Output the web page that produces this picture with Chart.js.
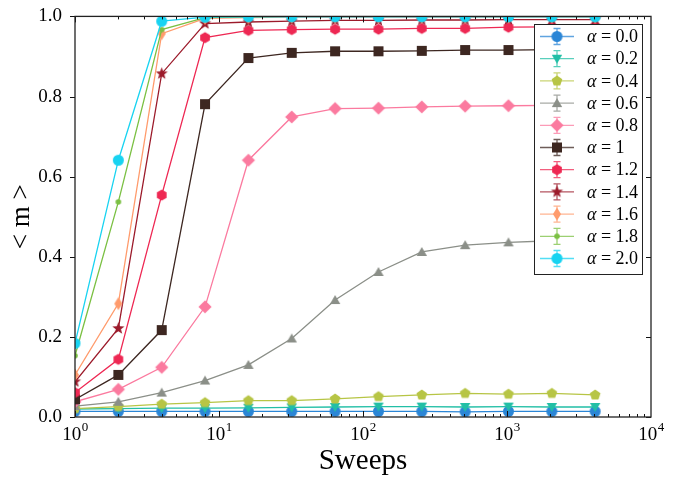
<!DOCTYPE html>
<html>
<head>
<meta charset="utf-8">
<script src="https://cdn.jsdelivr.net/npm/chart.js@4.4.1/dist/chart.umd.min.js"></script>
<style>
    html, body { margin: 0; padding: 0; background: #fff; }
    #wrap { width: 679px; height: 479px; }
</style>
</head>
<body>
<div id="wrap"><canvas id="sweepChart" width="679" height="479"></canvas></div>
<script>
// sweep counts (x) and magnetisation per alpha
const sweeps = [1, 2, 4, 8, 16, 32, 64, 128, 256, 512, 1024, 2048, 4096];
const alphaLabels = ["α = 0.0", "α = 0.2", "α = 0.4", "α = 0.6", "α = 0.8", "α = 1",
                     "α = 1.2", "α = 1.4", "α = 1.6", "α = 1.8", "α = 2.0"];

const mA00 = [0.014, 0.014, 0.014, 0.014, 0.014, 0.014, 0.014, 0.014, 0.014, 0.013, 0.014, 0.014, 0.014];
const mA02 = [0.020, 0.021, 0.022, 0.022, 0.023, 0.024, 0.025, 0.026, 0.026, 0.025, 0.026, 0.025, 0.025];
const mA04 = [0.021, 0.026, 0.032, 0.036, 0.041, 0.041, 0.045, 0.051, 0.055, 0.059, 0.057, 0.059, 0.055];
const mA06 = [0.027, 0.038, 0.061, 0.091, 0.130, 0.196, 0.292, 0.362, 0.412, 0.429, 0.436, 0.440, 0.445];
const mA08 = [0.038, 0.069, 0.124, 0.275, 0.641, 0.749, 0.770, 0.771, 0.774, 0.776, 0.777, 0.778, 0.779];
const mA10 = [0.044, 0.105, 0.217, 0.781, 0.896, 0.909, 0.913, 0.913, 0.914, 0.916, 0.916, 0.917, 0.917];
const mA12 = [0.061, 0.144, 0.554, 0.947, 0.965, 0.967, 0.968, 0.968, 0.970, 0.970, 0.973, 0.974, 0.975];
const mA14 = [0.088, 0.221, 0.857, 0.982, 0.986, 0.988, 0.990, 0.990, 0.991, 0.991, 0.992, 0.992, 0.992];
const mA16 = [0.105, 0.283, 0.957, 0.995, 0.997, 0.998, 0.998, 0.998, 0.998, 0.998, 0.998, 0.998, 0.998];
const mA18 = [0.153, 0.537, 0.967, 0.997, 0.999, 1.000, 1.000, 1.000, 1.000, 1.000, 1.000, 1.000, 1.000];
const mA20 = [0.184, 0.641, 0.988, 0.998, 0.999, 0.999, 0.999, 0.999, 0.999, 0.999, 0.999, 0.999, 0.999];

const xTickValues = [1, 10, 100, 1000, 10000];
const yTickValues = [0, 0.2, 0.4, 0.6, 0.8, 1.0];

const seriesValues = [mA00, mA02, mA04, mA06, mA08, mA10, mA12, mA14, mA16, mA18, mA20];
const seriesColors = ["#2b86d6", "#22bfa6", "#b7c545", "#8b8f88", "#fb7a9f", "#3d2721",
                      "#ee2853", "#9c1b2b", "#ff9b6c", "#7bc043", "#18d3f1"];
const seriesShapes = ["circle", "triDown", "pentagon", "triUp", "diamond", "square",
                      "hexagon", "star", "thinDiamond", "dot", "circle"];
const shapeSize = { circle: 5.5, triDown: 6, pentagon: 5.6, triUp: 6, diamond: 6.6, square: 5,
                    hexagon: 5.6, star: 6.4, thinDiamond: 6.6, dot: 2.8 };

const serif = '"Liberation Serif", "Times New Roman", serif';

function polygonPath(g, cx, cy, r, n, start) {
    for (let k = 0; k < n; k++) {
        const a = start + k * 2 * Math.PI / n;
        const px = cx + r * Math.cos(a), py = cy + r * Math.sin(a);
        k === 0 ? g.moveTo(px, py) : g.lineTo(px, py);
    }
}

// build a small canvas holding one marker glyph, used as pointStyle
function makeMarker(shape, color) {
    const r = shapeSize[shape];
    const size = Math.ceil(r * 2 + 4);
    const c = document.createElement('canvas');
    c.width = size;
    c.height = size;
    const g = c.getContext('2d');
    const cx = size / 2, cy = size / 2;
    g.fillStyle = color;
    g.beginPath();
    switch (shape) {
        case "circle":
        case "dot":
            g.arc(cx, cy, r, 0, Math.PI * 2);
            break;
        case "triDown":
            polygonPath(g, cx, cy - 1, r, 3, Math.PI / 2);
            break;
        case "triUp":
            polygonPath(g, cx, cy + 1, r, 3, -Math.PI / 2);
            break;
        case "pentagon":
            polygonPath(g, cx, cy, r, 5, -Math.PI / 2);
            break;
        case "hexagon":
            polygonPath(g, cx, cy, r, 6, -Math.PI / 2);
            break;
        case "square":
            g.rect(cx - r, cy - r, r * 2, r * 2);
            break;
        case "diamond":
            g.moveTo(cx, cy - r); g.lineTo(cx + r, cy); g.lineTo(cx, cy + r); g.lineTo(cx - r, cy);
            break;
        case "thinDiamond":
            g.moveTo(cx, cy - r); g.lineTo(cx + r * 0.62, cy); g.lineTo(cx, cy + r); g.lineTo(cx - r * 0.62, cy);
            break;
        case "star":
            for (let k = 0; k < 10; k++) {
                const a = -Math.PI / 2 + k * Math.PI / 5;
                const rr = k % 2 === 0 ? r : r * 0.42;
                const px = cx + rr * Math.cos(a), py = cy + rr * Math.sin(a);
                k === 0 ? g.moveTo(px, py) : g.lineTo(px, py);
            }
            break;
    }
    g.closePath();
    g.fill();
    return c;
}

const markers = seriesShapes.map((s, i) => makeMarker(s, seriesColors[i]));

const datasets = seriesValues.map((vals, i) => ({
    label: alphaLabels[i],
    data: sweeps.map((s, j) => ({ x: s, y: vals[j] })),
    borderColor: seriesColors[i],
    backgroundColor: seriesColors[i],
    borderWidth: 1.3,
    pointStyle: markers[i],
    pointRadius: 5,
    tension: 0,
    order: seriesValues.length - 1 - i
}));

// frame with ticks (x inward, left y outward, right y inward) plus the 10^n labels
const framePlugin = {
    id: 'frame',
    afterDatasetsDraw(chart) {
        const { ctx, chartArea: a, scales: { x, y } } = chart;
        ctx.save();
        ctx.strokeStyle = '#111';
        ctx.lineWidth = 1;
        ctx.beginPath();
        for (let d = 0; d < 4; d++) {
            for (let k = 1; k < 10; k++) {
                const v = Math.pow(10, d) * k;
                const px = Math.round(x.getPixelForValue(v)) + 0.5;
                const len = k === 1 ? 6 : 3;
                ctx.moveTo(px, a.bottom); ctx.lineTo(px, a.bottom - len);
                ctx.moveTo(px, a.top); ctx.lineTo(px, a.top + len);
            }
        }
        yTickValues.forEach(v => {
            const py = Math.round(y.getPixelForValue(v)) + 0.5;
            ctx.moveTo(a.left, py); ctx.lineTo(a.left - 5, py);
            ctx.moveTo(a.right, py); ctx.lineTo(a.right - 5, py);
        });
        ctx.stroke();
        ctx.lineWidth = 1.3;
        ctx.strokeStyle = '#222';
        ctx.strokeRect(a.left, a.top, a.right - a.left, a.bottom - a.top);

        ctx.fillStyle = '#000';
        ctx.textBaseline = 'alphabetic';
        xTickValues.forEach(v => {
            const px = x.getPixelForValue(v);
            const exp = String(Math.round(Math.log10(v)));
            ctx.font = '19px ' + serif;
            const wBase = ctx.measureText('10').width;
            ctx.font = '13px ' + serif;
            const wExp = ctx.measureText(exp).width;
            const left = px - (wBase + wExp) / 2;
            ctx.font = '19px ' + serif;
            ctx.textAlign = 'left';
            ctx.fillText('10', left, a.bottom + 23);
            ctx.font = '13px ' + serif;
            ctx.fillText(exp, left + wBase + 0.5, a.bottom + 14);
        });
        ctx.restore();
    },
    afterDraw(chart) {
        const { ctx } = chart;
        const box = { left: 534, top: 24, right: 642, bottom: 274 };
        ctx.save();
        ctx.fillStyle = '#fff';
        ctx.fillRect(box.left, box.top, box.right - box.left, box.bottom - box.top);
        ctx.strokeStyle = '#222';
        ctx.lineWidth = 1;
        ctx.strokeRect(box.left + 0.5, box.top + 0.5, box.right - box.left, box.bottom - box.top);

        chart.data.datasets.forEach((ds, i) => {
            const cy = 36.5 + i * 22.2;
            const mx = 557;
            ctx.globalAlpha = 0.75;
            ctx.strokeStyle = ds.borderColor;
            ctx.lineWidth = 1.3;
            ctx.beginPath();
            ctx.moveTo(540, cy); ctx.lineTo(574, cy);
            ctx.moveTo(mx, cy - 8); ctx.lineTo(mx, cy + 8);
            ctx.moveTo(mx - 3.5, cy - 8); ctx.lineTo(mx + 3.5, cy - 8);
            ctx.moveTo(mx - 3.5, cy + 8); ctx.lineTo(mx + 3.5, cy + 8);
            ctx.stroke();
            ctx.globalAlpha = 1;
            const m = ds.pointStyle;
            ctx.drawImage(m, mx - m.width / 2, cy - m.height / 2);

            // italic alpha, then the rest upright
            const sym = ds.label.charAt(0);
            const rest = ds.label.slice(1);
            ctx.fillStyle = '#000';
            ctx.textBaseline = 'middle';
            ctx.textAlign = 'left';
            ctx.font = 'italic 18px ' + serif;
            ctx.fillText(sym, 587, cy + 1);
            const w = ctx.measureText(sym).width;
            ctx.font = '18px ' + serif;
            ctx.fillText(rest, 587 + w, cy + 1);
        });
        ctx.restore();
    }
};

const ctx = document.getElementById('sweepChart').getContext('2d');
new Chart(ctx, {
    type: 'line',
    data: { datasets: datasets },
    options: {
        responsive: false,
        animation: false,
        layout: { padding: { top: 16, right: 28, left: 0, bottom: 0 } },
        plugins: {
            legend: { display: false },
            tooltip: { enabled: false }
        },
        scales: {
            x: {
                type: 'logarithmic',
                min: 1,
                max: 10000,
                grid: { display: false },
                border: { display: false },
                ticks: { display: false },
                title: {
                    display: true,
                    text: 'Sweeps',
                    color: '#000',
                    font: { family: serif, size: 29 },
                    padding: { top: 0, bottom: 0 }
                },
                afterFit(scale) { scale.height = 62; }
            },
            y: {
                min: 0,
                max: 1,
                grid: { display: false },
                border: { display: false },
                afterBuildTicks(scale) {
                    scale.ticks = yTickValues.map(v => ({ value: v }));
                },
                ticks: {
                    color: '#000',
                    padding: 5,
                    font: { family: serif, size: 19 },
                    callback: v => v.toFixed(1)
                },
                title: {
                    display: true,
                    text: '< m >',
                    color: '#000',
                    font: { family: serif, size: 27 },
                    padding: { top: 6, bottom: 0 }
                },
                afterFit(scale) { scale.width = 75; }
            }
        }
    },
    plugins: [framePlugin]
});
</script>
</body>
</html>
